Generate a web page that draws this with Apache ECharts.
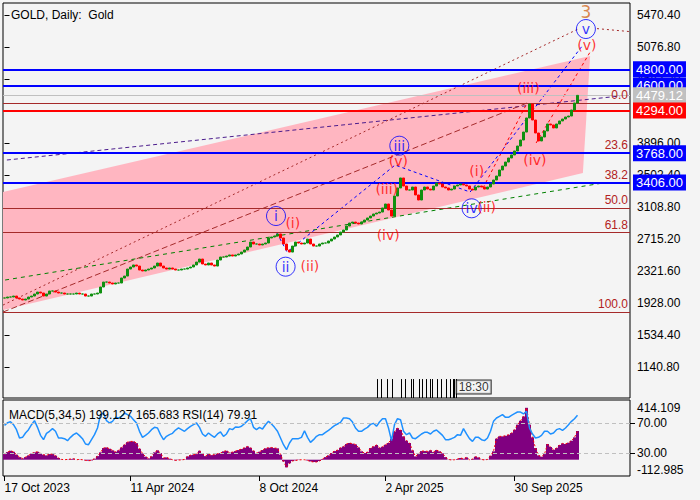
<!DOCTYPE html>
<html><head><meta charset="utf-8">
<script src="https://cdn.jsdelivr.net/npm/echarts@6/dist/echarts.min.js"></script>
<style>html,body{margin:0;padding:0;background:#f4f4f4;}#c{width:700px;height:500px;}</style>
</head><body><div id="c"></div>
<script>
// ---------- data ----------
const barCount = 209; // bar slots on the time axis (last ones empty)
const closes = [1987,1999,1999,2011,1987,1974,1962,1974,1999,2011,
2036,2060,2048,2011,2036,2073,2073,2060,2048,2048,
2036,2036,2036,2036,2048,2036,2036,2011,2011,2036,
2036,2048,2122,2183,2183,2171,2159,2171,2171,2233,
2257,2343,2368,2393,2380,2331,2319,2331,2343,2356,
2380,2417,2380,2356,2343,2356,2343,2331,2331,2343,
2343,2356,2368,2393,2429,2466,2405,2393,2417,2393,
2380,2454,2491,2491,2503,2516,2503,2516,2528,2552,
2577,2614,2675,2651,2651,2639,2651,2663,2725,2737,
2749,2774,2725,2651,2577,2552,2626,2675,2663,2651,
2663,2712,2651,2626,2626,2651,2663,2663,2688,2712,
2737,2762,2798,2823,2872,2909,2921,2909,2897,2921,
2946,2971,2995,3020,3032,3044,3094,3143,3069,2995,
3241,3340,3463,3364,3315,3315,3352,3254,3192,3315,
3352,3327,3315,3364,3401,3389,3352,3340,3315,3327,
3364,3377,3389,3377,3364,3327,3315,3352,3364,3352,
3327,3352,3389,3438,3487,3561,3610,3659,3709,3746,
3795,3856,3930,4028,4201,4373,4176,4016,3918,3967,
4041,4127,4115,4078,4127,4164,4188,4213,4225,4299,
4385,4479.12];
const rsi = [66.6,70.1,71.4,67.5,61,50,50.9,56.6,61,67.5,
72.8,64,53.5,47.8,56.1,58.8,62.3,58.8,50,50,
49.1,46.5,50.9,54.4,56.6,53.1,49.1,42.1,41.2,47.8,
54.4,63.2,80.7,82.9,72.8,69.7,71.9,77.2,76.3,78.5,
82.9,80.7,78.5,74.1,69.7,58.8,50.9,53.5,56.6,61,
64,63.2,54.4,47.8,52.2,54.4,56.1,60.5,63.2,61,
58.8,62.3,65.4,67.5,69.7,64,55.3,52.2,56.6,53.5,
50.9,55.3,57.9,52.2,55.3,62.3,61,64.5,64,65.4,
68.9,72.8,75.4,64,61,64,61.8,67.5,71.9,68.4,
64,58.8,50,41.2,34.6,43.4,
49.1,49.1,49.1,50.9,59.6,50.9,44.3,47.8,52.2,54.4,
54.4,57.5,60.1,63.2,66.2,68.4,70.6,76.3,76.3,75.4,
71,63.2,58.8,58.8,61.8,64,67.9,69.3,65.4,71,
75.4,75.4,63.2,46.5,67.5,75.4,74.1,58.8,54.4,56.6,
50,49.1,52.2,55.3,57.5,57.5,55.3,58.8,60.5,57,
53.5,47.8,47.8,49.1,50.9,54.4,53.5,62.3,55.3,49.1,
45.6,50.9,50.9,47.8,46.5,50,58.8,71.9,76.3,78.5,
80.7,77.2,77.2,79.8,82,84.2,84.2,81.6,85.1,63.2,
55.3,50,50.9,53.5,58.8,58.8,55.3,56.6,61,62.3,
60.1,63.2,67.5,71.9,75.4,79.91];
const macd = [39,53,62,55,35,18,9,18,30,42,
51,55,44,35,30,39,39,28,12,2,
0,2,5,7,0,2,0,-5,-7,-5,
7,25,51,81,85,76,65,55,65,85,
104,122,127,127,115,76,44,21,9,23,
51,65,46,12,16,7,0,-5,-2,-2,
2,23,32,35,39,62,42,25,39,32,
35,42,46,58,62,49,53,60,67,74,
83,92,83,62,46,55,67,79,83,85,
81,79,35,-12,-53,-25,
-9,-5,-2,0,0,-5,-12,-16,-16,-9,
5,18,30,46,60,67,83,92,109,116,
111,106,85,58,46,53,81,92,102,83,
90,104,116,146,196,219,206,162,132,116,
65,23,39,60,60,58,65,53,67,58,
44,18,2,-2,0,5,12,7,16,0,
5,21,16,2,-2,2,28,58,146,162,
162,166,173,185,208,243,270,300,360,243,
155,81,30,21,39,109,88,69,81,102,
113,109,118,132,155,199.127];

const priceTicks = [5470.40,5076.80,4683.20,3896.00,3502.40,3108.80,2715.20,2321.60,1928.00,1534.40,1140.80];
const rsiTicks = [70, 30];
const macdTicks = [414.109, -112.985];
const dateTickBars = [0, 42, 85, 127, 170];
const dateTickLabels = ['17 Oct 2023','11 Apr 2024','8 Oct 2024','2 Apr 2025','30 Sep 2025'];

const levelValues = [4800, 4600, 4479.12, 4294, 3768, 3406];
const levelKinds  = ['blue','blue','grey','red','blue','blue'];
const fibValues = [4381, 3774, 3399, 3095.5, 2792, 1810];
const fibLabels = ['0.0','23.6','38.2','50.0','61.8','100.0'];

// channel corners and trend lines: [bar index, price]
const channel = [[-0.5,3290],[195.2,4963],[192.8,3524],[-0.5,1839]];
const purpleLine = [[0.8,3684],[205.2,4471]];
const brownDotted = [[-0.5,1900],[191.5,5300]];
const brownRight = [[197.5,5300],[231.8,5185]];
const brownLong = [[-0.5,1814],[174.2,4385]];
const greenLine = [[0.2,2208],[199.5,3401]];
const blueWave = [[90.8,2786],[94.2,2552],[130.2,3622],[155.2,3290],[192.8,5098]];
const redWaveA = [[159.5,3340],[174.2,4385]];
const redWaveB = [[177.2,3893],[195.2,5012]];

const circleWaves = [[90.5,2995,'i'],[93.7,2372,'ii'],[131.6,3860,'iii'],[155.7,3090,'iv'],[193.8,5295,'v']];
const redWaves = [[96.1,2905,'(i)'],[101.8,2380,'(ii)'],[127.4,3327,'(iii)'],[127.9,2762,'(iv)'],[131.3,3672,'(v)'],
  [157.4,3552,'(i)'],[160.7,3110,'(ii)'],[174.6,4566,'(iii)'],[176.8,3684,'(iv)'],[194.1,5099,'(v)']];
const degreeLabel = [[193.8,5508,'3']];

const eventBars = [124.1,125.4,127.4,129.3,132.1,133.5,135.4,136.3,138.3,139,140.5,141.8,142.4,144.3,145.5,147.2,148.5,149.4,149.9,150.5];
const eventTop = 990;
const eventTime = [[156.4, 892, '18:30']];

// ---------- chart ----------
const FONT = '"Liberation Sans", Arial, sans-serif';
const WFONT = '"DejaVu Sans", sans-serif';
const PMIN = 757, PMAX = 5615;
const cats = Array.from({length: barCount}, (_, i) => String(i));
const candleData = closes.map((c, i) => { const o = i ? closes[i-1] : c; return [o, c, Math.min(o, c), Math.max(o, c)]; });
const labelMap = {}; dateTickBars.forEach((b, k) => { labelMap[String(b)] = dateTickLabels[k]; });
const kindColor = {blue:'#0000ff', grey:'#c0c0c0', red:'#ff0000'};

function trend(points, color, dash, extra) {
  return Object.assign({type:'line', xAxisIndex:1, yAxisIndex:0, data:points, symbol:'none', silent:true, z:4,
    animation:false, lineStyle:{color:color, width:1, type:dash}}, extra || {});
}

const levelLines = levelValues.map((v, k) => ({
  yAxis: v,
  lineStyle: {color: kindColor[levelKinds[k]], width: levelKinds[k] === 'grey' ? 1 : 2, type: 'solid'},
  label: {show: true, position: 'end', distance: 3, formatter: v.toFixed(2), backgroundColor: kindColor[levelKinds[k]],
    color: '#ffffff', padding: [2, 3, 1, 3], fontSize: 13, fontFamily: FONT}
}));
const fibLines = fibValues.map((v, k) => ({
  yAxis: v,
  lineStyle: {color: '#a52a2a', width: 1, type: 'solid'},
  label: {show: true, position: 'insideEndTop', distance: 2, formatter: fibLabels[k], color: '#b22222', fontSize: 12, fontFamily: FONT}
}));

const chart = echarts.init(document.getElementById('c'), null, {renderer: 'svg'});
chart.setOption({
  backgroundColor: '#f4f4f4',
  animation: false,
  title: [
    {text: 'GOLD, Daily:  Gold', left: 6, top: 4, textStyle: {fontSize: 12, fontWeight: 'normal', color: '#000', fontFamily: FONT}},
    {text: 'MACD(5,34,5) 199.127 165.683 RSI(14) 79.91', left: 4, top: 404, textStyle: {fontSize: 12, fontWeight: 'normal', color: '#000', fontFamily: FONT}}
  ],
  grid: [
    {left: 3, top: 3, width: 627, height: 395, show: true, borderColor: '#000', borderWidth: 1},
    {left: 3, top: 400, width: 627, height: 76, show: true, borderColor: '#000', borderWidth: 1}
  ],
  xAxis: [
    {type: 'category', gridIndex: 0, data: cats, axisLine: {show: false}, axisTick: {show: false}, axisLabel: {show: false}, splitLine: {show: false}},
    {type: 'value', gridIndex: 0, min: -0.5, max: barCount - 0.5, show: false},
    {type: 'category', gridIndex: 1, data: cats, axisLine: {show: false}, splitLine: {show: false},
      axisTick: {show: true, alignWithLabel: true, length: 5, interval: (i) => labelMap[String(i)] !== undefined, lineStyle: {color: '#000'}},
      axisLabel: {interval: (i) => labelMap[String(i)] !== undefined, formatter: (v) => labelMap[String(v)] || '', align: 'left',
        color: '#000', fontSize: 12, fontFamily: FONT, margin: 6}}
  ],
  yAxis: [
    {type: 'value', gridIndex: 0, position: 'right', min: PMIN, max: PMAX, splitLine: {show: false}, axisLine: {show: false},
      axisTick: {show: true, length: 5, customValues: priceTicks, lineStyle: {color: '#000'}},
      axisLabel: {customValues: priceTicks, formatter: (v) => v.toFixed(2), color: '#000', fontSize: 12, fontFamily: FONT, margin: 7}},
    {type: 'value', gridIndex: 1, position: 'right', min: 0, max: 100, splitLine: {show: false}, axisLine: {show: false},
      axisTick: {show: true, length: 5, customValues: rsiTicks, lineStyle: {color: '#000'}},
      axisLabel: {customValues: rsiTicks, formatter: (v) => v.toFixed(2), color: '#000', fontSize: 12, fontFamily: FONT, margin: 7}},
    {type: 'value', gridIndex: 1, position: 'right', min: macdTicks[1], max: macdTicks[0], splitLine: {show: false}, axisLine: {show: false},
      axisTick: {show: false},
      axisLabel: {customValues: macdTicks, margin: 7,
        formatter: (v) => v > 0 ? '{t|' + macdTicks[0].toFixed(3) + '}' : '{b|' + macdTicks[1].toFixed(3) + '}',
        rich: {t: {padding: [16, 0, 0, 0], fontSize: 12, color: '#000', fontFamily: FONT},
               b: {padding: [0, 0, 12, 0], fontSize: 12, color: '#000', fontFamily: FONT}}}}
  ],
  series: [
    {type: 'custom', xAxisIndex: 1, yAxisIndex: 0, z: 1, silent: true, data: [channel[0]],
      renderItem: (params, api) => ({type: 'polygon', shape: {points: channel.map(p => api.coord(p))}, style: {fill: '#ffb6c1'}})},
    {type: 'line', xAxisIndex: 1, yAxisIndex: 0, z: 3, silent: true, data: [[0, PMIN]], symbol: 'none', lineStyle: {opacity: 0},
      markLine: {symbol: 'none', silent: true, animation: false, data: fibLines.concat(levelLines)}},
    trend(purpleLine, '#4b1c8c', [4, 3]),
    trend(brownDotted, '#a52a2a', [2, 3]),
    trend(brownRight, '#a52a2a', [2, 3], {clip: false}),
    trend(brownLong, '#a52a2a', [6, 3]),
    trend(greenLine, '#008000', [4, 4]),
    trend(blueWave, '#0000ff', [3, 3]),
    trend(redWaveA, '#ff0000', [3, 3]),
    trend(redWaveB, '#ff0000', [3, 3]),
    {type: 'candlestick', xAxisIndex: 0, yAxisIndex: 0, z: 5, data: candleData, barWidth: 2, silent: true,
      itemStyle: {color: '#109010', color0: '#ff0000', borderColor: '#109010', borderColor0: '#ff0000', borderWidth: 1}},
    {type: 'custom', xAxisIndex: 1, yAxisIndex: 0, z: 6, silent: true, data: eventBars.map(b => [b, eventTop]),
      renderItem: (params, api) => {
        const a = api.coord([api.value(0), api.value(1)]);
        const b = api.coord([api.value(0), PMIN]);
        const x = Math.round(a[0]) + 0.5;
        return {type: 'line', shape: {x1: x, y1: a[1], x2: x, y2: b[1]}, style: {stroke: '#000', lineWidth: 1}};
      }},
    {type: 'scatter', xAxisIndex: 1, yAxisIndex: 0, z: 7, silent: true, data: eventTime, symbolSize: 0,
      label: {show: true, position: 'inside', formatter: (p) => p.data[2], color: '#000', fontSize: 12, fontFamily: FONT,
        borderColor: '#000', borderWidth: 1, padding: [1, 2, 0, 2], backgroundColor: '#f4f4f4'}},
    {type: 'scatter', xAxisIndex: 1, yAxisIndex: 0, z: 8, silent: true, data: circleWaves, symbol: 'circle', symbolSize: 19,
      itemStyle: {color: 'rgba(0,0,0,0)', borderColor: '#0000ff', borderWidth: 1},
      label: {show: true, position: 'inside', formatter: (p) => p.data[2], color: '#0000ff', fontSize: 14, fontFamily: WFONT}},
    {type: 'scatter', xAxisIndex: 1, yAxisIndex: 0, z: 8, silent: true, data: redWaves, symbolSize: 1,
      itemStyle: {color: 'rgba(0,0,0,0)'},
      label: {show: true, position: 'inside', formatter: (p) => p.data[2], color: '#ff0000', fontSize: 14, fontFamily: WFONT}},
    {type: 'scatter', xAxisIndex: 1, yAxisIndex: 0, z: 8, silent: true, data: degreeLabel, symbolSize: 1,
      itemStyle: {color: 'rgba(0,0,0,0)'},
      label: {show: true, position: 'inside', formatter: (p) => p.data[2], color: '#d2691e', fontSize: 17, fontFamily: WFONT}},
    {type: 'bar', xAxisIndex: 2, yAxisIndex: 2, z: 2, silent: true, data: macd, barCategoryGap: '0%', itemStyle: {color: '#800080'}},
    {type: 'line', xAxisIndex: 2, yAxisIndex: 2, z: 3, silent: true, data: macd, symbol: 'none', lineStyle: {color: '#ff0000', width: 1, type: [2, 2]}},
    {type: 'line', xAxisIndex: 2, yAxisIndex: 1, z: 4, silent: true, data: rsi, symbol: 'none', lineStyle: {color: '#1e90ff', width: 1.5},
      markLine: {symbol: 'none', silent: true, animation: false, label: {show: false},
        lineStyle: {color: '#c0c0c0', type: [4, 3], width: 1}, data: rsiTicks.map(v => ({yAxis: v}))}}
  ]
});
</script></body></html>
